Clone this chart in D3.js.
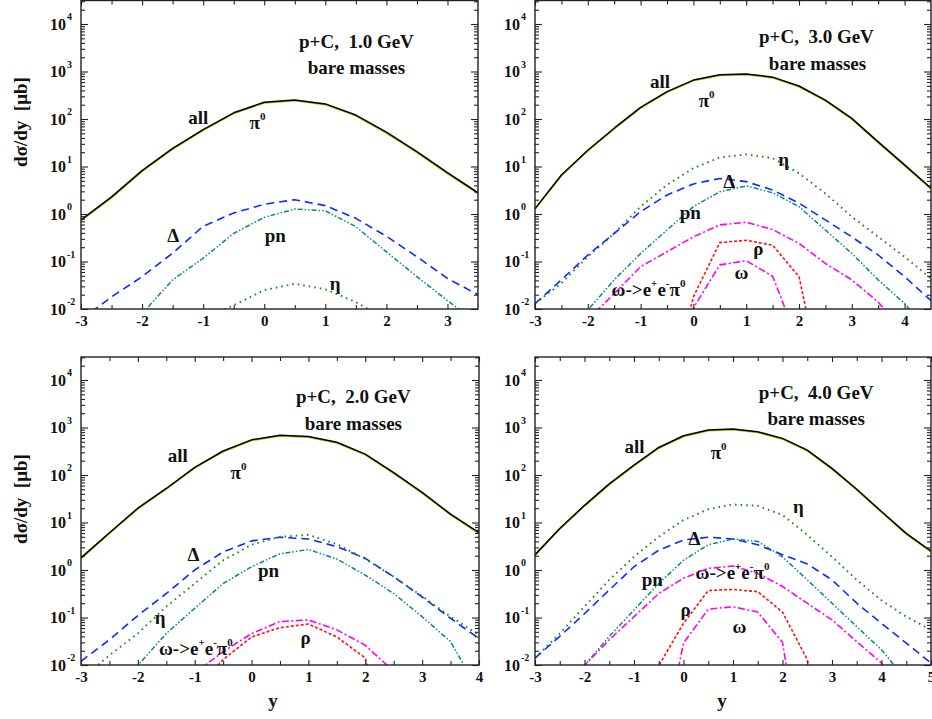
<!DOCTYPE html>
<html><head><meta charset="utf-8">
<script src="https://cdn.jsdelivr.net/npm/d3@7"></script>
<style>
body{margin:0;background:#fff}
svg{display:block}
text{font-family:"Liberation Serif","Times New Roman",serif;font-weight:bold;fill:#111}
</style>
</head><body>
<svg id="c" width="932" height="719"></svg>
<script>
// ---------- DATA (dσ/dy in μb vs rapidity y) ----------
// p+C 1.0 GeV
const rap1   = [-3,-2.5,-2,-1.5,-1,-0.5,0,0.5,1,1.5,2,2.5,3,3.5];
const all1   = [0.75,2.3,8.2,24,60,135,225,250,208,121,53,20.5,7.4,2.8];
const pi01   = [0.73,2.2,7.9,23.2,58,131,219,243,202,117,51,19.8,7.1,2.7];
const delta1 = [0.006,0.018,0.048,0.15,0.55,1.05,1.6,2.0,1.5,0.81,0.34,0.126,0.044,0.02];
const pn1    = [0.001,0.003,0.008,0.041,0.117,0.39,0.85,1.27,1.17,0.54,0.16,0.048,0.015,0.005];
const eta1   = [null,null,null,0.002,0.006,0.012,0.025,0.034,0.026,0.014,0.006,0.002,null,null];

// p+C 3.0 GeV
const rap3   = [-3,-2.5,-2,-1.5,-1,-0.5,0,0.5,1,1.5,2,2.5,3,3.5,4,4.5];
const all3   = [1.3,6.6,22,64,176,377,660,850,890,760,495,250,103,33,10.8,3.5];
const pi03   = [1.26,6.4,21.3,62,170,366,640,825,864,738,480,242,100,32,10.5,3.4];
const eta3   = [0.013,0.035,0.126,0.39,1.43,4.1,9.2,15.5,18,14.9,7.2,2.7,0.88,0.33,0.126,0.044];
const delta3 = [0.013,0.041,0.137,0.39,1.12,2.5,4.3,5.6,4.8,3.2,1.7,0.75,0.33,0.137,0.048,0.015];
const pn3    = [0.0005,0.003,0.0095,0.041,0.148,0.46,1.43,2.95,3.9,2.8,1.43,0.46,0.148,0.041,0.013,0.003];
const omee3  = [null,0.001,0.006,0.021,0.078,0.16,0.33,0.59,0.67,0.47,0.24,0.091,0.041,0.014,0.003,0.0005];
const rho3   = [null,null,null,null,null,0.0001,0.018,0.25,0.28,0.22,0.048,0.00012,null,null,null,null];
const omega3 = [null,null,null,null,null,0.00001,0.0105,0.085,0.104,0.049,0.0018,null,null,null,null,null];

// p+C 2.0 GeV
const rap2   = [-3,-2.5,-2,-1.5,-1,-0.5,0,0.5,1,1.5,2,2.5,3,3.5,4];
const all2   = [1.8,6.1,20,52,145,320,550,690,645,490,275,112,43,15,6.1];
const pi02   = [1.74,5.9,19.4,50.5,141,311,534,670,626,476,267,109,41.7,14.6,5.9];
const delta2 = [0.012,0.034,0.11,0.32,1.0,2.4,4.1,4.9,4.5,3.1,1.76,0.72,0.27,0.096,0.036];
const eta2   = [0.005,0.016,0.046,0.17,0.52,1.6,3.4,5.0,5.5,3.5,1.7,0.72,0.28,0.104,0.043];
const pn2    = [0.0003,0.002,0.0098,0.046,0.156,0.52,1.17,2.2,2.7,1.7,0.78,0.32,0.104,0.031,0.0027];
const omee2  = [null,null,null,0.002,0.0068,0.019,0.046,0.082,0.089,0.055,0.026,0.0074,0.003,null,null];
const rho2   = [null,null,null,0.001,0.003,0.013,0.039,0.061,0.073,0.039,0.014,0.00004,null,null,null];

// p+C 4.0 GeV
const rap4   = [-3,-2.5,-2,-1.5,-1,-0.5,0,0.5,1,1.5,2,2.5,3,3.5,4,4.5,5];
const all4   = [2.1,7.5,23,65,162,380,670,890,930,815,590,335,138,50,17,5.9,2.5];
const pi04   = [2.04,7.3,22.3,63,157,368,650,862,902,790,572,325,134,48.5,16.5,5.7,2.43];
const eta4   = [0.014,0.046,0.17,0.62,1.9,5.0,11.3,19,24,22.5,14.4,5.5,1.9,0.62,0.23,0.104,0.055];
const delta4 = [0.014,0.04,0.12,0.38,1.17,2.6,4.3,4.9,4.5,3.4,2.1,1.34,0.62,0.2,0.075,0.029,0.011];
const pn4    = [0.0003,0.002,0.0098,0.04,0.144,0.52,1.6,3.4,4.5,4.0,1.9,0.62,0.2,0.064,0.021,0.0048,0.0005];
const omee4  = [0.0003,0.002,0.0098,0.034,0.104,0.32,0.67,1.08,1.21,0.85,0.45,0.2,0.089,0.031,0.011,0.002,0.0003];
const rho4   = [null,null,null,null,0.00001,0.0097,0.075,0.37,0.39,0.35,0.13,0.013,0.00001,null,null,null,null];
const omega4 = [null,null,null,null,null,0.00008,0.029,0.15,0.168,0.13,0.03,0.00002,null,null,null,null,null];

const yTickExps = [-2,-1,0,1,2,3,4];

// ---------- STYLES ----------
const styles = {
  pi0:   {stroke:"#c0b400", width:1.8, dash:null},
  all:   {stroke:"#000000", width:1.5, dash:null},
  delta: {stroke:"#0a2cff", width:1.6, dash:"8,5"},
  pn:    {stroke:"#008a8a", width:1.5, dash:"5,2,1.5,2,1.5,2"},
  eta:   {stroke:"#168c16", width:1.9, dash:"1.6,4"},
  omee:  {stroke:"#ff00ff", width:1.6, dash:"7,2.5,2,2.5"},
  rho:   {stroke:"#ff1010", width:1.6, dash:"3,2"},
  omega: {stroke:"#ff00ff", width:1.6, dash:"7,2.5,2,2.5"}
};

const panels = [
  {id:"p1", left:81, right:478, top:0.5, bottom:309, xd:[-3,3.5], rap:rap1, energy:"1.0",
   series:[["pi0",pi01],["all",all1],["delta",delta1],["pn",pn1],["eta",eta1]],
   title:[1.51,3.64], sub:[1.51,3.09],
   labels:[["all",-1.08,2.04],["pi0",-0.11,1.94],["Δ",-1.49,-0.44],["pn",0.18,-0.44],["η",1.16,-1.47]]},
  {id:"p3", left:535, right:931, top:0.5, bottom:309, xd:[-3,4.5], rap:rap3, energy:"3.0",
   series:[["pi0",pi03],["all",all3],["eta",eta3],["delta",delta3],["pn",pn3],["omee",omee3],["rho",rho3],["omega",omega3]],
   title:[2.33,3.75], sub:[2.35,3.18],
   labels:[["all",-0.63,2.80],["pi0",0.25,2.40],["η",1.71,1.16],["Δ",0.68,0.69],["pn",-0.06,0.04],["ρ",1.23,-0.72],["ω",0.91,-1.22],["omee",-0.85,-1.58]]},
  {id:"p2", left:81, right:479, top:357, bottom:665, xd:[-3,4], rap:rap2, energy:"2.0",
   series:[["pi0",pi02],["all",all2],["delta",delta2],["eta",eta2],["pn",pn2],["omee",omee2],["rho",rho2]],
   title:[1.79,3.66], sub:[1.79,3.09],
   labels:[["all",-1.30,2.42],["pi0",-0.23,2.06],["Δ",-1.02,0.32],["pn",0.30,0.0],["η",-1.61,-0.99],["ρ",0.95,-1.41],["omee",-0.98,-1.64]]},
  {id:"p4", left:535, right:931, top:357, bottom:665, xd:[-3,5], rap:rap4, energy:"4.0",
   series:[["pi0",pi04],["all",all4],["eta",eta4],["delta",delta4],["pn",pn4],["omee",omee4],["rho",rho4],["omega",omega4]],
   title:[2.68,3.75], sub:[2.68,3.2],
   labels:[["all",-0.99,2.61],["pi0",0.71,2.48],["η",2.32,1.33],["Δ",0.22,0.67],["pn",-0.63,-0.19],["omee",0.99,-0.04],["ρ",0.04,-0.82],["ω",1.13,-1.18]]}
];

const svg = d3.select("#c");
const defs = svg.append("defs");
const decadePx = 47.5;

panels.forEach(p => {
  const x = d3.scaleLinear().domain(p.xd).range([p.left, p.right]);
  const y = d3.scaleLog().domain([1e-2, 1e4]).range([p.bottom, p.bottom - 6*decadePx]);
  const g = svg.append("g");

  defs.append("clipPath").attr("id","clip-"+p.id)
    .append("rect").attr("x",p.left).attr("y",p.top).attr("width",p.right-p.left).attr("height",p.bottom-p.top);

  const line = d3.line()
    .defined(d => d[1] != null)
    .x(d => x(d[0])).y(d => y(d[1]));

  const lg = g.append("g").attr("clip-path","url(#clip-"+p.id+")");
  p.series.forEach(([key, vals]) => {
    const st = styles[key];
    lg.append("path")
      .datum(p.rap.map((r,i) => [r, vals[i]]))
      .attr("d", line)
      .attr("fill","none")
      .attr("stroke", st.stroke)
      .attr("stroke-width", st.width)
      .attr("stroke-dasharray", st.dash)
      .attr("stroke-linejoin","round");
  });

  // axes
  const majX = d3.range(Math.ceil(p.xd[0]), p.xd[1] + 1e-9, 1);
  const minX = d3.range(Math.ceil(p.xd[0]) + 0.5, p.xd[1], 1);
  const majY = yTickExps.map(e => Math.pow(10, e));
  const minY = [];
  for (let e = -2; e <= 4; e++) for (let k = 2; k <= 9; k++) { const v = k*Math.pow(10,e); if (y(v) >= p.top) minY.push(v); }

  const axG = g.append("g").attr("class","axes");
  const bx = axG.append("g").attr("transform",`translate(0,${p.bottom})`)
    .call(d3.axisBottom(x).tickValues(majX).tickSize(-5).tickPadding(6).tickFormat(d => String(d)));
  axG.append("g").attr("transform",`translate(0,${p.bottom})`)
    .call(d3.axisBottom(x).tickValues(minX).tickSize(-4).tickFormat(""));
  axG.append("g").attr("transform",`translate(0,${p.top})`)
    .call(d3.axisTop(x).tickValues(majX).tickSize(-5).tickFormat(""));
  axG.append("g").attr("transform",`translate(0,${p.top})`)
    .call(d3.axisTop(x).tickValues(minX).tickSize(-4).tickFormat(""));
  axG.append("g").attr("transform",`translate(${p.left},0)`)
    .call(d3.axisLeft(y).tickValues(majY).tickSize(-7).tickFormat(""));
  axG.append("g").attr("transform",`translate(${p.left},0)`)
    .call(d3.axisLeft(y).tickValues(minY).tickSize(-4).tickFormat(""));
  axG.append("g").attr("transform",`translate(${p.right},0)`)
    .call(d3.axisRight(y).tickValues(majY).tickSize(-7).tickFormat(""));
  axG.append("g").attr("transform",`translate(${p.right},0)`)
    .call(d3.axisRight(y).tickValues(minY).tickSize(-4).tickFormat(""));
  axG.selectAll(".domain").remove();
  axG.selectAll(".tick line").attr("stroke","#222").attr("stroke-width",1.1);
  bx.selectAll(".tick text").attr("font-size",15).attr("font-family",'"Liberation Serif",serif').attr("font-weight","bold").attr("fill","#111");

  // y tick labels 10^n
  yTickExps.forEach(e => {
    g.append("text").attr("x", p.left - 15).attr("y", y(Math.pow(10,e))).attr("dy","0.35em")
      .attr("text-anchor","end").attr("font-size",16).text("10");
    g.append("text").attr("x", p.left - 14).attr("y", y(Math.pow(10,e)) - 4).attr("font-size",10).text(String(e));
  });

  // frame
  g.append("rect").attr("x",p.left).attr("y",p.top).attr("width",p.right-p.left).attr("height",p.bottom-p.top)
    .attr("fill","none").attr("stroke","#222").attr("stroke-width",1.4);

  // annotations
  g.append("text").attr("x", x(p.title[0])).attr("y", y(Math.pow(10,p.title[1]))).attr("dy","0.35em")
    .attr("text-anchor","middle").attr("font-size",19).attr("xml:space","preserve").text(`p+C,  ${p.energy} GeV`);
  g.append("text").attr("x", x(p.sub[0])).attr("y", y(Math.pow(10,p.sub[1]))).attr("dy","0.35em")
    .attr("text-anchor","middle").attr("font-size",19).text("bare masses");

  p.labels.forEach(([name, lx, ly]) => {
    const t = g.append("text").attr("x", x(lx)).attr("y", y(Math.pow(10, ly))).attr("dy","0.35em")
      .attr("text-anchor","middle").attr("font-size",19);
    if (name === "pi0") {
      t.append("tspan").text("π");
      t.append("tspan").attr("font-size",11).attr("dy","-9").text("0");
    } else if (name === "omee") {
      t.append("tspan").text("ω->e");
      t.append("tspan").attr("font-size",11).attr("dy","-9").text("+");
      t.append("tspan").attr("dy","9").text("e");
      t.append("tspan").attr("font-size",11).attr("dy","-9").text("-");
      t.append("tspan").attr("dy","9").text("π");
      t.append("tspan").attr("font-size",11).attr("dy","-9").text("0");
    } else {
      t.text(name);
    }
  });
});

// axis titles
svg.append("text").attr("transform","translate(27,122) rotate(-90)").attr("text-anchor","middle")
  .attr("font-size",19).attr("xml:space","preserve").text("dσ/dy  [μb]");
svg.append("text").attr("transform","translate(27,499) rotate(-90)").attr("text-anchor","middle")
  .attr("font-size",19).attr("xml:space","preserve").text("dσ/dy  [μb]");
svg.append("text").attr("x",273).attr("y",707).attr("text-anchor","middle").attr("font-size",19).text("y");
svg.append("text").attr("x",722).attr("y",707).attr("text-anchor","middle").attr("font-size",19).text("y");
</script>
</body></html>
